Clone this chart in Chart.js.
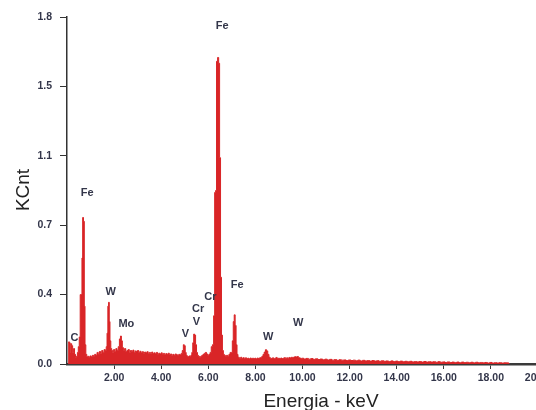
<!DOCTYPE html>
<html>
<head>
<meta charset="utf-8">
<title>EDS spectrum</title>
<script src="https://cdn.jsdelivr.net/npm/chart.js@4/dist/chart.umd.min.js"></script>
<style>
  html, body { margin: 0; padding: 0; background: #fff; }
  #wrap { width: 536px; height: 410px; overflow: hidden; position: relative; }
  #spectrum { display: block; }
</style>
</head>
<body>
<div id="wrap"><canvas id="spectrum" width="580" height="430"></canvas></div>
<script>
/* --------------------------------------------------------
   EDS spectrum  –  KCnt vs Energia (keV)
   values
   -------------------------------------------------------- */

// energy channels (keV)
const energy = [
  0.06, 0.08, 0.12, 0.15, 0.18, 0.22, 0.26, 0.30, 0.34, 0.38, 0.42,
  0.46, 0.50, 0.54, 0.58, 0.62, 0.65, 0.68, 0.72, 0.75, 0.78, 0.82, 0.86,
  0.90, 0.95, 1.00, 1.05, 1.10, 1.15, 1.20, 1.25, 1.30, 1.35, 1.40, 1.45, 1.50, 1.55, 1.60, 1.65,
  1.68, 1.72, 1.75, 1.78, 1.81, 1.84, 1.88, 1.92, 1.96, 2.00, 2.05, 2.10, 2.15,
  2.20, 2.25, 2.29, 2.33, 2.37, 2.42, 2.47, 2.52, 2.57, 2.62, 2.67, 2.72, 2.77, 2.82, 2.87, 2.92, 2.97,
  3.02, 3.07, 3.12, 3.17, 3.22, 3.27, 3.32, 3.37, 3.42, 3.47, 3.52, 3.57, 3.62, 3.67, 3.72, 3.77, 3.82, 3.87, 3.92, 3.97,
  4.02, 4.07, 4.12, 4.17, 4.22, 4.27, 4.32, 4.37, 4.42, 4.47, 4.52, 4.57, 4.62, 4.67, 4.72, 4.77, 4.82, 4.87,
  4.92, 4.96, 5.00, 5.04, 5.08, 5.12, 5.16, 5.20, 5.24, 5.28, 5.32,
  5.36, 5.40, 5.44, 5.48, 5.52, 5.56, 5.60, 5.65, 5.70, 5.75, 5.80, 5.85, 5.90, 5.95, 6.00, 6.05, 6.10, 6.15,
  6.20, 6.25, 6.29, 6.33, 6.37, 6.42, 6.46, 6.50, 6.54, 6.58, 6.62, 6.66,
  6.70, 6.75, 6.80, 6.85, 6.90, 6.95,
  7.00, 7.04, 7.08, 7.12, 7.16, 7.20, 7.24, 7.28,
  7.35, 7.40, 7.45, 7.50, 7.55, 7.60, 7.65, 7.70, 7.75, 7.80, 7.85, 7.90, 7.95, 8.00, 8.05, 8.10, 8.15, 8.20, 8.25, 8.30,
  8.35, 8.40, 8.45, 8.50, 8.55, 8.60, 8.65, 8.70, 8.75, 8.80, 8.85, 8.90, 8.95, 9.00, 9.05, 9.10, 9.15, 9.20,
  9.25, 9.30, 9.35, 9.40, 9.45, 9.50, 9.55, 9.60, 9.65, 9.70, 9.75, 9.80, 9.85, 9.90, 9.95, 10.00,
  10.1, 10.2, 10.3, 10.4, 10.5, 10.6, 10.7, 10.8, 10.9, 11.0, 11.1, 11.2, 11.3, 11.4, 11.5, 11.6, 11.7, 11.8, 11.9,
  12.0, 12.1, 12.2, 12.3, 12.4, 12.5, 12.6, 12.7, 12.8, 12.9, 13.0, 13.1, 13.2, 13.3, 13.4, 13.5, 13.6, 13.7, 13.8, 13.9,
  14.0, 14.1, 14.2, 14.3, 14.4, 14.5, 14.6, 14.7, 14.8, 14.9, 15.0, 15.1, 15.2, 15.3, 15.4, 15.5, 15.6, 15.7, 15.8, 15.9,
  16.0, 16.1, 16.2, 16.3, 16.4, 16.5, 16.6, 16.7, 16.8, 16.9, 17.0, 17.1, 17.2, 17.3, 17.4, 17.5, 17.6, 17.7, 17.8, 17.9,
  18.0, 18.1, 18.2, 18.3, 18.4, 18.5, 18.6, 18.7, 18.8
];

// counts (KCnt), one per channel above
const counts = [
  0.000, 0.115, 0.110, 0.060, 0.105, 0.095, 0.060, 0.080, 0.050, 0.035, 0.040,
  0.060, 0.090, 0.140, 0.360, 0.360, 0.550, 0.760, 0.740, 0.300, 0.100, 0.050, 0.038,
  0.040, 0.035, 0.042, 0.038, 0.045, 0.040, 0.050, 0.045, 0.060, 0.050, 0.065, 0.055, 0.070, 0.060, 0.075, 0.070,
  0.090, 0.160, 0.300, 0.320, 0.220, 0.120, 0.080, 0.070, 0.060, 0.075, 0.065, 0.080, 0.070,
  0.090, 0.130, 0.145, 0.120, 0.085, 0.070, 0.080, 0.065, 0.070, 0.075, 0.060, 0.070, 0.065, 0.072, 0.060, 0.068, 0.062,
  0.070, 0.060, 0.066, 0.058, 0.064, 0.056, 0.062, 0.058, 0.064, 0.055, 0.060, 0.055, 0.062, 0.054, 0.058, 0.052, 0.060, 0.050, 0.056, 0.052,
  0.058, 0.050, 0.055, 0.048, 0.054, 0.050, 0.056, 0.048, 0.052, 0.046, 0.050, 0.045, 0.052, 0.048, 0.045, 0.050, 0.048, 0.055,
  0.070, 0.100, 0.095, 0.060, 0.045, 0.040, 0.038, 0.042, 0.040, 0.045, 0.060,
  0.110, 0.155, 0.150, 0.100, 0.060, 0.045, 0.040, 0.035, 0.040, 0.045, 0.050, 0.055, 0.060, 0.052, 0.045, 0.050, 0.060, 0.090,
  0.100, 0.250, 0.890, 0.900, 1.570, 1.590, 1.560, 1.070, 0.450, 0.150, 0.070, 0.050,
  0.045, 0.040, 0.045, 0.040, 0.050, 0.060,
  0.060, 0.120, 0.220, 0.255, 0.200, 0.100, 0.050, 0.035,
  0.030, 0.035, 0.028, 0.033, 0.027, 0.032, 0.028, 0.030, 0.026, 0.031, 0.027, 0.030, 0.028, 0.030, 0.026, 0.031, 0.028, 0.032, 0.034, 0.040,
  0.050, 0.062, 0.074, 0.068, 0.050, 0.035, 0.030, 0.028, 0.032, 0.027, 0.030, 0.034, 0.028, 0.030, 0.026, 0.031, 0.028, 0.030,
  0.033, 0.029, 0.032, 0.030, 0.034, 0.031, 0.035, 0.033, 0.036, 0.038, 0.036, 0.039, 0.033, 0.031, 0.029, 0.030,
  0.026, 0.029, 0.025, 0.028, 0.024, 0.027, 0.023, 0.026, 0.022, 0.025, 0.021, 0.024, 0.020, 0.023, 0.019, 0.022, 0.020, 0.021, 0.018,
  0.021, 0.018, 0.020, 0.017, 0.020, 0.016, 0.019, 0.016, 0.018, 0.015, 0.018, 0.015, 0.017, 0.014, 0.017, 0.014, 0.016, 0.013, 0.016, 0.013,
  0.015, 0.012, 0.015, 0.012, 0.014, 0.012, 0.014, 0.011, 0.013, 0.011, 0.013, 0.010, 0.013, 0.010, 0.012, 0.010, 0.012, 0.009, 0.012, 0.009,
  0.011, 0.008, 0.011, 0.008, 0.010, 0.008, 0.010, 0.007, 0.010, 0.007, 0.009, 0.007, 0.009, 0.006, 0.009, 0.006, 0.008, 0.006, 0.008, 0.005,
  0.008, 0.005, 0.007, 0.005, 0.007, 0.005, 0.006, 0.006, 0.000
];

// peak annotations: element, energy (keV), height (KCnt) of the label
const peakNames  = ['C',  'Fe', 'W',   'Mo',  'V',   'V',   'Cr',  'Cr',  'Fe',  'Fe',  'W',   'W'];
const peakEnergy = [0.32, 0.86, 1.85,  2.52,  5.03,  5.50,  5.57,  6.09,  6.59,  7.23,  8.54,  9.82];
const peakHeight = [0.135, 0.888, 0.375, 0.207, 0.156, 0.216, 0.284, 0.346, 1.753, 0.410, 0.142, 0.211];

// axis ticks
const xTickValues = [2, 4, 6, 8, 10, 12, 14, 16, 18, 20];
const xTickLabels = ['2.00', '4.00', '6.00', '8.00', '10.00', '12.00', '14.00', '16.00', '18.00', '20.00'];
const yTickValues = [0, 0.36, 0.72, 1.08, 1.44, 1.8];
const yTickLabels = ['0.0', '0.4', '0.7', '1.1', '1.5', '1.8'];

const RED = '#d92527';
const TICK_FONT = { family: 'Liberation Sans, Arial, sans-serif', size: 10.5, weight: 'bold' };

/* ---------- labels + axis titles ---------- */
const annotate = {
  id: 'annotate',
  afterDatasetsDraw(chart) {
    const { ctx, scales: { x, y } } = chart;
    ctx.save();
    ctx.fillStyle = '#33364a';
    ctx.font = 'bold 11px "Liberation Sans", Arial, sans-serif';
    ctx.textAlign = 'center';
    ctx.textBaseline = 'middle';
    peakNames.forEach((name, i) => {
      ctx.fillText(name, x.getPixelForValue(peakEnergy[i]), y.getPixelForValue(peakHeight[i]));
    });

    // axis titles
    ctx.fillStyle = '#222';
    ctx.font = '19px "Liberation Sans", Arial, sans-serif';
    ctx.textBaseline = 'alphabetic';
    ctx.fillText('Energia - keV', 321, 407);
    ctx.translate(29, 190);
    ctx.rotate(-Math.PI / 2);
    ctx.fillText('KCnt', 0, 0);
    ctx.restore();
  }
};

new Chart(document.getElementById('spectrum'), {
  type: 'line',
  data: {
    datasets: [{
      data: energy.map((e, i) => ({ x: e, y: counts[i] })),
      borderColor: RED,
      backgroundColor: RED,
      borderWidth: 1,
      fill: 'origin',
      stepped: 'middle',
      pointRadius: 0
    }]
  },
  options: {
    responsive: false,
    animation: false,
    layout: { padding: { left: 0, top: 17, right: 42, bottom: 0 } },
    plugins: { legend: { display: false }, tooltip: { enabled: false } },
    scales: {
      x: {
        type: 'linear',
        min: 0,
        max: 20,
        afterFit: s => { s.height = 66; },
        afterBuildTicks: s => { s.ticks = xTickValues.map(v => ({ value: v })); },
        border: { color: '#3a3a3a', width: 2.5 },
        grid: { drawOnChartArea: false, tickLength: 5, color: '#3a3a3a' },
        ticks: {
          padding: 3,
          maxRotation: 0,
          autoSkip: false,
          color: '#33364a',
          font: TICK_FONT,
          callback: v => xTickLabels[xTickValues.indexOf(v)]
        }
      },
      y: {
        min: 0,
        max: 1.8,
        afterFit: s => { s.width = 67; },
        afterBuildTicks: s => { s.ticks = yTickValues.map(v => ({ value: v })); },
        border: { color: '#333', width: 1.5 },
        grid: { drawOnChartArea: false, tickLength: 7, color: '#333' },
        ticks: {
          padding: 8,
          color: '#33364a',
          font: TICK_FONT,
          callback: v => yTickLabels[yTickValues.indexOf(v)]
        }
      }
    }
  },
  plugins: [annotate]
});
</script>
</body>
</html>
